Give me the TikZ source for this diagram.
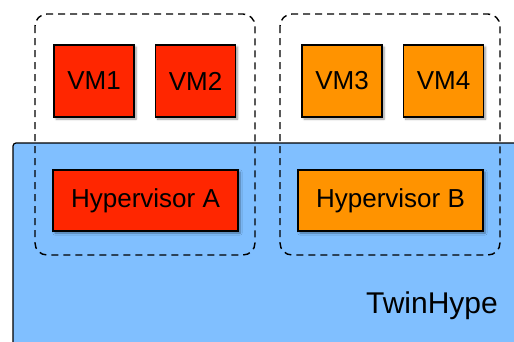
\documentclass[tikz,border=0pt]{standalone}
\usepackage{fontspec}
\setmainfont{Liberation Sans}
\usetikzlibrary{shadows.blur}
\definecolor{vmred}{RGB}{255,38,0}
\definecolor{vmorange}{RGB}{255,147,0}
\definecolor{hostblue}{RGB}{128,191,255}
\tikzset{
  vmbox/.style={draw=black, line width=1.3pt, minimum width=80pt, minimum height=72pt, inner sep=0pt,
     font=\fontsize{26}{30}\selectfont, blur shadow={shadow xshift=2pt, shadow yshift=-2pt, shadow blur steps=6, shadow opacity=40}},
  hypbox/.style={vmbox, minimum width=185pt, minimum height=61pt},
  groupbox/.style={draw=black, line width=1.4pt, dash pattern=on 7pt off 5pt, rounded corners=12pt},
  hostbox/.style={draw=black, line width=1.2pt, fill=hostblue, rounded corners=3pt}
}
\begin{document}
\begin{tikzpicture}[x=1pt,y=-1pt]
\useasboundingbox (0,0) rectangle (514,341);
\begin{scope}
\clip (0,0) rectangle (514,341);
\draw[hostbox] (13,143) rectangle (540,370);
\node[font=\fontsize{30}{36}\selectfont, anchor=base, inner sep=0pt] (twinhype) at (432,313) {TwinHype};
\draw[groupbox] (35,14) rectangle (255,255);
\draw[groupbox] (280,14) rectangle (500,255);
\node[vmbox, fill=vmred] (vm1) at (94,81) {VM1};
\node[vmbox, fill=vmred] (vm2) at (195.5,81) {VM2};
\node[vmbox, fill=vmorange] (vm3) at (342,81) {VM3};
\node[vmbox, fill=vmorange] (vm4) at (443.5,81) {VM4};
\node[hypbox, fill=vmred] (hypa) at (145.5,200.5) {Hypervisor A};
\node[hypbox, fill=vmorange] (hypb) at (390.5,200.5) {Hypervisor B};
\end{scope}
\end{tikzpicture}
\end{document}
